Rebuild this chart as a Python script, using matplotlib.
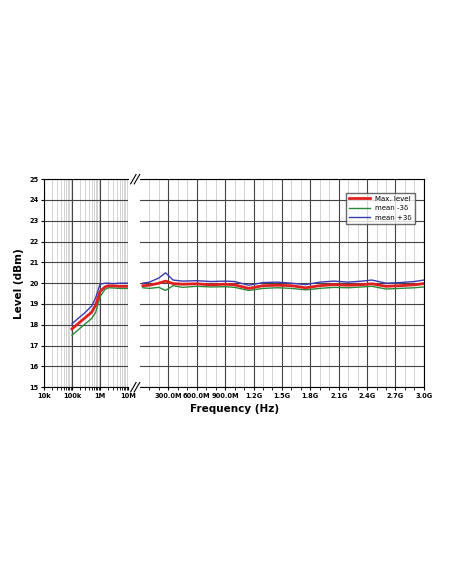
import matplotlib
matplotlib.use('Agg')
import matplotlib.pyplot as plt
import numpy as np

# low band, log axis (Hz)
f_lo = [1e5, 2e5, 3e5, 5e5, 7e5, 1e6, 1.5e6, 2e6, 3e6, 5e6, 1e7]
max_lo = [17.8, 18.15, 18.35, 18.6, 18.95, 19.6, 19.82, 19.88, 19.87, 19.85, 19.85]
minus_lo = [17.5, 17.85, 18.05, 18.3, 18.6, 19.35, 19.7, 19.78, 19.77, 19.75, 19.75]
plus_lo = [18.05, 18.4, 18.6, 18.9, 19.3, 19.95, 20.0, 20.0, 19.98, 20.0, 20.0]

# high band, linear axis (GHz)
f_hi = [0.03, 0.1, 0.2, 0.27, 0.35, 0.45, 0.6, 0.75, 0.9, 1.0, 1.15, 1.3, 1.45, 1.6,
        1.75, 1.9, 2.05, 2.2, 2.35, 2.45, 2.6, 2.75, 2.9, 3.0]
max_hi = [19.88, 19.9, 20.0, 20.1, 19.98, 19.95, 19.97, 19.92, 19.95, 19.92, 19.75, 19.88,
          19.9, 19.88, 19.78, 19.88, 19.93, 19.9, 19.93, 19.97, 19.85, 19.88, 19.92, 19.98]
minus_hi = [19.78, 19.75, 19.8, 19.65, 19.88, 19.8, 19.85, 19.82, 19.83, 19.8, 19.65, 19.75,
            19.78, 19.75, 19.68, 19.75, 19.8, 19.78, 19.82, 19.85, 19.72, 19.75, 19.78, 19.82]
plus_hi = [20.0, 20.05, 20.25, 20.5, 20.15, 20.1, 20.12, 20.08, 20.1, 20.08, 19.9, 20.03,
           20.05, 20.0, 19.93, 20.05, 20.1, 20.05, 20.1, 20.15, 20.0, 20.03, 20.08, 20.15]

fig = plt.figure(figsize=(4.52, 5.84), dpi=100)
ax1 = fig.add_axes([0.0973, 0.337, 0.186, 0.3562])
ax2 = fig.add_axes([0.3097, 0.337, 0.628, 0.3562])

tk = dict(fontsize=4.8, fontweight='bold')
for ax in (ax1, ax2):
    ax.set_ylim(15, 25)
    ax.set_yticks(range(15, 26))
    ax.grid(True, which='major', color='#444444', lw=0.8)
    ax.tick_params(length=2, pad=2, labelsize=4.8)

ax1.set_xscale('log')
ax1.set_xlim(1e4, 1e7)
ax1.set_xticks([1e4, 1e5, 1e6, 1e7])
ax1.set_xticklabels(['10k', '100k', '1M', '10M'], **tk)
ax1.set_yticklabels([str(v) for v in range(15, 26)], **tk)
ax1.grid(True, which='minor', color='#cccccc', lw=0.6)
ax1.spines['right'].set_visible(False)

ax2.set_xlim(0, 3.0)
ax2.set_xticks(np.arange(0.3, 3.01, 0.3))
ax2.set_xticklabels(['300.0M', '600.0M', '900.0M', '1.2G', '1.5G', '1.8G', '2.1G',
                     '2.4G', '2.7G', '3.0G'], **tk)
ax2.set_xticks(np.arange(0.1, 3.0, 0.1), minor=True)
ax2.grid(True, which='minor', axis='x', color='#cccccc', lw=0.6)
ax2.set_yticklabels([])
ax2.tick_params(axis='y', length=0)
ax2.spines['left'].set_visible(False)

ax1.plot(f_lo, minus_lo, color='#2a8a3a', lw=1.0)
ax1.plot(f_lo, plus_lo, color='#3a3ab0', lw=1.0)
ax1.plot(f_lo, max_lo, color='#e02020', lw=2.0)
ax2.plot(f_hi, minus_hi, color='#2a8a3a', lw=1.0, label='mean -3\u03b4')
ax2.plot(f_hi, plus_hi, color='#3a3ab0', lw=1.0, label='mean +3\u03b4')
ax2.plot(f_hi, max_hi, color='#e02020', lw=2.0, label='Max. level')

h, l = ax2.get_legend_handles_labels()
ax2.legend([h[2], h[0], h[1]], [l[2], l[0], l[1]], loc='upper right',
           bbox_to_anchor=(0.98, 0.95), fontsize=5, frameon=True, fancybox=False,
           edgecolor='#444444', handlelength=3)

# break marks
for yy in (0.337, 0.337 + 0.3562):
    for dx in (0, 0.008):
        fig.add_artist(plt.Line2D([0.289 + dx, 0.301 + dx], [yy - 0.008, yy + 0.008],
                                  color='black', lw=0.8))

ax1.set_ylabel('Level (dBm)', fontsize=7.5, fontweight='bold', labelpad=4)
fig.text(0.52, 0.295, 'Frequency (Hz)', ha='center', fontsize=7.5, fontweight='bold')

fig.savefig('out.png', dpi=100)
